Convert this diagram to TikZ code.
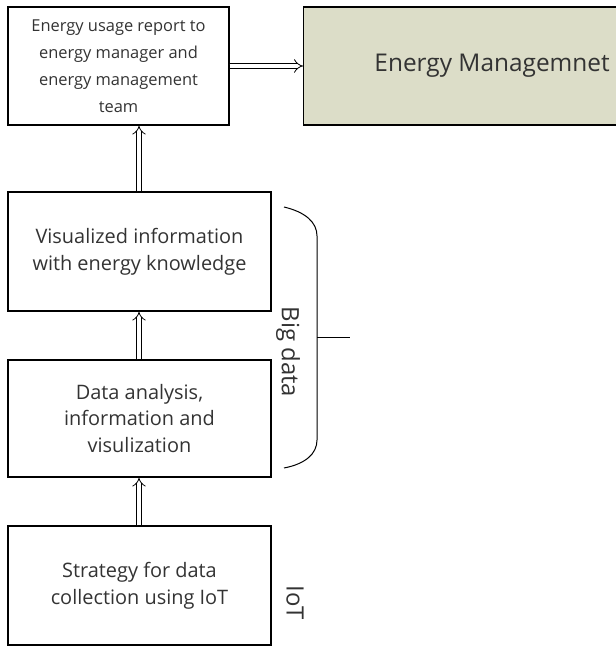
\documentclass[tikz,border=0pt]{standalone}
\usepackage{fontspec}
\setmainfont{Open Sans}
\usetikzlibrary{arrows.meta}
\definecolor{emfill}{HTML}{DCDDC8}
\definecolor{txt}{HTML}{333333}
\begin{document}
\begin{tikzpicture}[x=1bp,y=-1bp,
  box/.style={draw=black, line width=1.2bp, minimum width=#1, inner sep=0pt, align=center, text=txt, font=\fontsize{20}{27}\selectfont},
  dbl/.style={double, double distance=4bp, line width=0.8bp, -{Implies}}]
\useasboundingbox (0,0) rectangle (616,646);
\node[box=221bp, minimum height=118bp, font=\fontsize{16.5}{27}\selectfont] (report) at (118.5,66) {Energy usage report to\\energy manager and\\energy management\\team};
\node[box=316bp, minimum height=118bp, fill=emfill, anchor=west, font=\fontsize{24.5}{28}\selectfont] (em) at (303,66) {\hspace*{61bp}Energy Managemnet};
\node[box=263bp, minimum height=119bp] (vis) at (139.5,251.5) {Visualized information\\with energy knowledge};
\node[box=263bp, minimum height=117bp] (ana) at (139.5,418.5) {Data analysis,\\information and\\visulization};
\node[box=263bp, minimum height=119bp] (iot) at (139.5,585.5) {Strategy for data\\collection using IoT};
\draw[dbl] (report.east) -- (em.west);
\draw[dbl] (vis.north -| 139,0) -- (report.south -| 139,0);
\draw[dbl] (ana.north -| 139,0) -- (vis.south -| 139,0);
\draw[dbl] (iot.north -| 139,0) -- (ana.south -| 139,0);
\coordinate (bt) at (284,207);
\coordinate (bb) at (284,468);
\coordinate (bm) at (317,337);
\coordinate (tip) at (350,337);
\draw[line width=1bp] (bt) .. controls (305,212) and (317,222) .. (317,236) -- (317,440) .. controls (317,454) and (305,464) .. (bb);
\draw[line width=1bp] (bm) -- (tip);
\node[rotate=-90, text=txt, font=\fontsize{24}{28}\selectfont] (bd) at (288,352) {Big data};
\node[rotate=-90, text=txt, font=\fontsize{24}{28}\selectfont] (io) at (295,603) {IoT};
\end{tikzpicture}
\end{document}
